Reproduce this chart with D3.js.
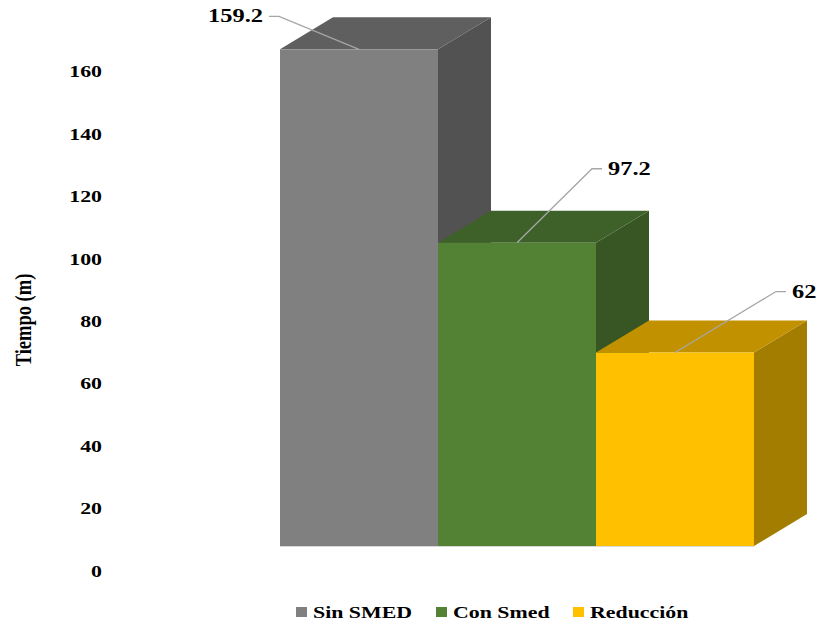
<!DOCTYPE html>
<html>
<head>
<meta charset="utf-8">
<script src="https://cdn.jsdelivr.net/npm/d3@7"></script>
<style>
  html, body { margin: 0; padding: 0; background: #ffffff; }
  svg { display: block; }
  text { font-family: "Liberation Serif", "Times New Roman", serif; font-weight: bold; fill: #000; }
</style>
</head>
<body>
<svg id="chart" width="818" height="622"></svg>
<script>
// Chart data
const categories = ["Sin SMED", "Con Smed", "Reducción"];
const values = [159.2, 97.2, 62];
const yTicks = [0, 20, 40, 60, 80, 100, 120, 140, 160];
const yTitle = "Tiempo (m)";

// Face colours per bar: front, top, side
const frontColors = ["#808080", "#548235", "#FFC000"];
const topColors = ["#5f5f5f", "#3e612a", "#c29100"];
const sideColors = ["#525252", "#375623", "#a27d00"];

// Layout
const floorY = 546;         // bottom of the front faces
const depthX = 53, depthY = 32;
const stretch = 1.25;       // horizontal text widening
const labelOffsets = [      // text edge relative to the top-front centre of each bar
  { dx: -96, dy: -33, side: "left" },
  { dx: 91, dy: -74, side: "right" },
  { dx: 117, dy: -61, side: "right" }
];

const svg = d3.select("#chart");

const x = d3.scaleBand().domain(categories).range([280, 754]).padding(0);
const y = d3.scaleLinear().domain([0, 160]).range([floorY, floorY - 160 * 3.12]);

// Bars drawn left to right so each one overlaps the previous side face
const bars = svg.append("g");
categories.forEach((c, i) => {
  const x0 = x(c), x1 = x0 + x.bandwidth();
  const yt = y(values[i]), yb = y(0);
  const g = bars.append("g");
  // side face
  g.append("path")
    .attr("d", `M${x1},${yt}L${x1 + depthX},${yt - depthY}L${x1 + depthX},${yb - depthY}L${x1},${yb}Z`)
    .attr("fill", sideColors[i]);
  // top face
  g.append("path")
    .attr("d", `M${x0},${yt}L${x0 + depthX},${yt - depthY}L${x1 + depthX},${yt - depthY}L${x1},${yt}Z`)
    .attr("fill", topColors[i]);
  // front face
  g.append("rect")
    .attr("x", x0).attr("y", yt)
    .attr("width", x.bandwidth()).attr("height", yb - yt)
    .attr("fill", frontColors[i]);
});

// faint floor edge
svg.append("line")
  .attr("x1", x.range()[0]).attr("x2", x.range()[1])
  .attr("y1", floorY + 0.5).attr("y2", floorY + 0.5)
  .attr("stroke", "#d9d9d9").attr("stroke-width", 1);

// Y axis tick labels (no line or tick marks)
const axisG = svg.append("g")
  .attr("transform", "translate(102,24)")
  .call(d3.axisLeft(y).tickValues(yTicks).tickSize(0).tickPadding(0).tickFormat(d3.format("d")));
axisG.select(".domain").remove();
axisG.selectAll(".tick text")
  .attr("x", null).attr("dy", null)
  .attr("dominant-baseline", "central")
  .attr("text-anchor", "end")
  .attr("transform", `scale(${stretch},1)`)
  .attr("fill", "#000")
  .style("font-family", "\"Liberation Serif\", \"Times New Roman\", serif")
  .style("font-weight", "bold")
  .style("font-size", "17.5px");

// Y axis title
svg.append("text")
  .attr("transform", `translate(23,320) scale(${stretch},1) rotate(-90)`)
  .attr("text-anchor", "middle")
  .attr("dominant-baseline", "central")
  .style("font-size", "18.5px")
  .text(yTitle);

// Value labels with leader lines
categories.forEach((c, i) => {
  const px = x(c) + x.bandwidth() / 2;
  const py = y(values[i]);
  const o = labelOffsets[i];
  const lx = px + o.dx, ly = py + o.dy;
  const dir = o.side === "left" ? -1 : 1;
  svg.append("polyline")
    .attr("points", `${px},${py} ${lx - dir * 16},${ly} ${lx - dir * 6},${ly}`)
    .attr("fill", "none")
    .attr("stroke", "#a6a6a6")
    .attr("stroke-width", 1.3);
  svg.append("text")
    .attr("transform", `translate(${lx},${ly}) scale(1.32,1)`)
    .attr("text-anchor", o.side === "left" ? "end" : "start")
    .attr("dominant-baseline", "central")
    .style("font-size", "18.5px")
    .text(d3.format(".1~f")(values[i]));
});

// Legend
const legendX = [296, 436, 573];
const legend = svg.append("g");
categories.forEach((c, i) => {
  legend.append("rect")
    .attr("x", legendX[i]).attr("y", 607)
    .attr("width", 11).attr("height", 10)
    .attr("fill", frontColors[i]);
  legend.append("text")
    .attr("transform", `translate(${legendX[i] + 17},612) scale(${stretch},1)`)
    .attr("dominant-baseline", "central")
    .style("font-size", "17.5px")
    .text(c);
});
</script>
</body>
</html>
